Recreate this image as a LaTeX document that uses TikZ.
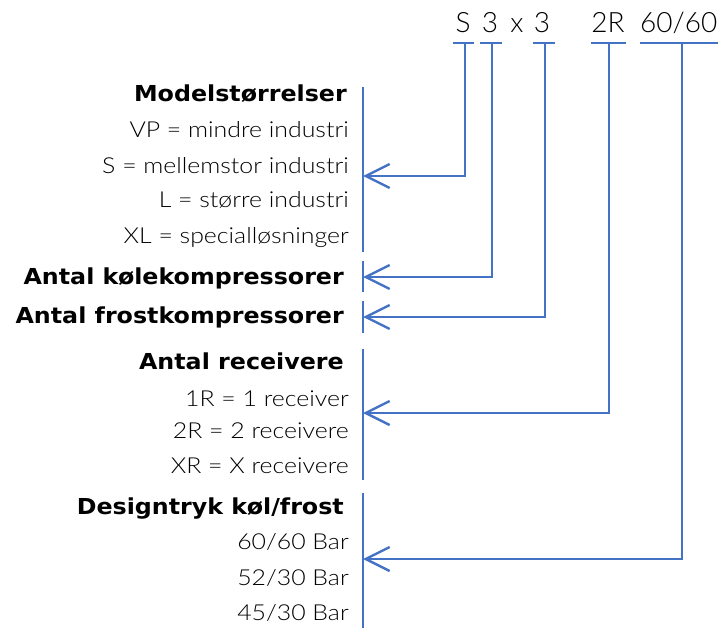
\documentclass[tikz,border=0pt]{standalone}
\usepackage{fontspec}
\setmainfont{Lato}[UprightFont=* Light, BoldFont=* Black]
\newfontfamily\itemfont{Lato}[UprightFont=* Light, FakeStretch=1.13]
\newfontfamily\headfont{DejaVu Sans}[UprightFont=* Bold, FakeStretch=1.08]
\usetikzlibrary{arrows.meta}
\definecolor{linkblue}{HTML}{4472C4}
\begin{document}
\begin{tikzpicture}[x=1bp,y=-1bp,
  item/.style={anchor=base east,inner sep=0pt,font=\itemfont\fontsize{22bp}{26bp}\selectfont},
  head/.style={anchor=base east,inner sep=0pt,font=\headfont\fontsize{22bp}{26bp}\selectfont},
  code/.style={anchor=base,inner sep=0pt,font=\fontsize{28bp}{32bp}\selectfont},
  wire/.style={draw=linkblue,line width=2.4bp},
  link/.style={wire,-{Straight Barb[length=24bp,width=24bp]}}]
\useasboundingbox (0,0) rectangle (718,628);

% type code
\node[code] (cS) at (463,33) {S};
\node[code] (cA) at (490,33) {3};
\node[code] (cX) at (517,33) {x};
\node[code] (cB) at (542,33) {3};
\node[code] (cR) at (608,33) {2R};
\node[code,anchor=base east] (cD) at (717.5,33) {60/60};

% groups of explanations
\node[head] (hModel) at (347,102) {Modelstørrelser};
\node[item] (mVP) at (349,138) {VP = mindre industri};
\node[item] (mS)  at (349,174) {S = mellemstor industri};
\node[item] (mL)  at (349,208) {L = større industri};
\node[item] (mXL) at (349,243) {XL = specialløsninger};
\node[head] (hKoel)  at (344,284) {Antal kølekompressorer};
\node[head] (hFrost) at (344,323) {Antal frostkompressorer};
\node[head] (hRec)   at (344,369) {Antal receivere};
\node[item] (r1) at (349,406) {1R = 1 receiver};
\node[item] (r2) at (349,438) {2R = 2 receivere};
\node[item] (rX) at (349,473) {XR = X receivere};
\node[head] (hDesign) at (344,514) {Designtryk køl/frost};
\node[item] (p1) at (349,549) {60/60 Bar};
\node[item] (p2) at (349,585) {52/30 Bar};
\node[item] (p3) at (349,620) {45/30 Bar};

% brackets beside each group
\draw[wire] (363,87) -- (363,252);
\draw[wire] (363,261) -- (363,292);
\draw[wire] (363,301) -- (363,333);
\draw[wire] (363,349) -- (363,480);
\draw[wire] (363,493) -- (363,628);

% bars under the code characters
\draw[wire] (453,43) -- (474,43);
\draw[wire] (480,43) -- (502,43);
\draw[wire] (533,43) -- (555,43);
\draw[wire] (591,43) -- (626,43);
\draw[wire] (640,43) -- (718,43);

\coordinate (tS) at (465,43);
\coordinate (tA) at (492,43);
\coordinate (tB) at (545,43);
\coordinate (tR) at (609,43);
\coordinate (tD) at (682,43);

\coordinate (gModel)  at (363,176);
\coordinate (gKoel)   at (363,277);
\coordinate (gFrost)  at (363,317);
\coordinate (gRec)    at (363,413);
\coordinate (gDesign) at (363,559);

\draw[link] (tS) |- (gModel);
\draw[link] (tA) |- (gKoel);
\draw[link] (tB) |- (gFrost);
\draw[link] (tR) |- (gRec);
\draw[link] (tD) |- (gDesign);
\end{tikzpicture}
\end{document}
